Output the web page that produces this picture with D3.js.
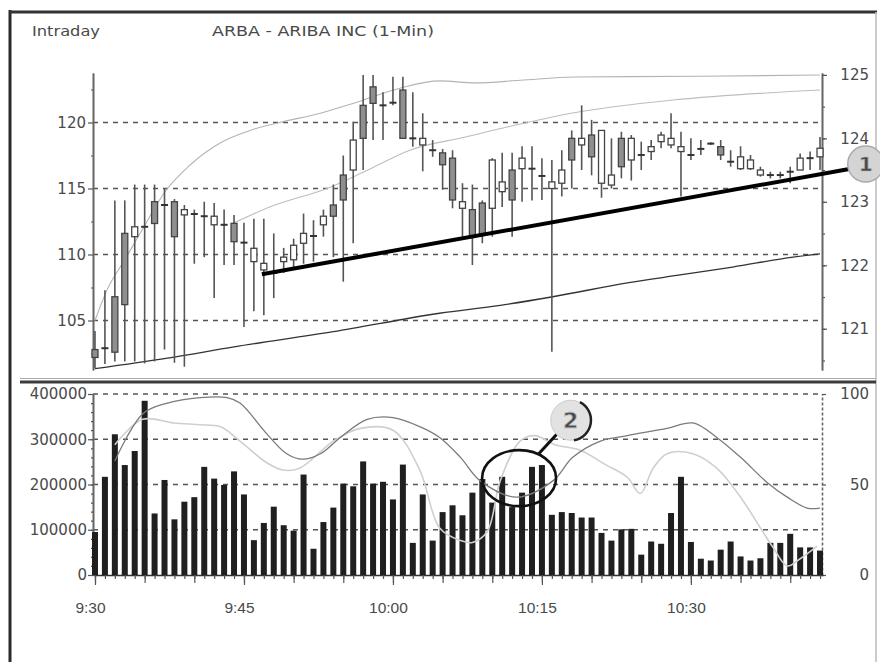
<!DOCTYPE html>
<html>
<head>
<meta charset="utf-8">
<script src="https://cdn.jsdelivr.net/npm/d3@7"></script>
<style>
  body { margin: 0; background: #fff; }
  text { font-family: "DejaVu Sans", sans-serif; fill: #4a4a4a; }
</style>
</head>
<body>
<script>
const W = 880, H = 662;

// ---- data ----
const timeLabels = ["9:30", "9:45", "10:00", "10:15", "10:30"];
const timeTickIdx = [0, 15, 30, 45, 60];

const opens = [102.8,102.9,106.8,111.6,111.35,112.1,114.0,113.75,114.0,113.0,
  113.07,112.9,112.25,112.25,112.36,110.9,109.46,108.83,108.6,109.46,
  109.6,110.85,111.4,112.25,113.75,116.02,116.4,121.3,122.7,121.3,
  121.5,122.46,118.8,118.3,117.9,117.7,117.3,113.5,113.4,113.9,
  113.5,114.76,116.4,116.5,116.5,115.95,115.0,115.4,118.8,118.3,
  119.05,115.4,115.26,118.8,117.16,117.54,117.8,118.55,118.3,117.8,
  117.54,118.0,118.4,118.17,117.03,116.5,116.5,116.02,116.02,116.02,
  116.27,116.4,117.3,117.4];
const highs = [104.2,107.3,114.1,114.1,115.3,115.3,115.3,115.0,114.2,113.75,
  113.4,114.0,113.9,113.4,113.0,112.4,112.7,112.7,111.6,110.5,
  111.2,113.1,112.6,113.4,115.3,117.5,120.06,123.6,123.6,122.3,
  123.47,123.47,122.3,120.7,118.67,118.0,117.9,115.4,115.3,114.1,
  117.3,117.7,117.7,118.2,118.2,117.3,117.16,117.9,119.4,121.3,
  120.2,119.4,118.8,119.3,119.05,118.55,118.67,119.3,120.7,119.3,
  118.8,118.67,118.5,118.67,117.9,118.2,117.54,116.65,116.27,116.27,
  116.65,117.66,117.8,118.9];
const lows = [101.4,101.7,101.9,101.9,101.9,101.75,101.9,102.8,101.8,101.5,
  109.3,109.8,106.7,109.2,109.2,104.5,105.7,105.4,106.7,108.6,
  108.95,109.3,109.46,111.35,109.8,107.94,110.85,116.4,118.67,118.67,
  121.3,118.8,118.17,116.3,117.4,114.9,113.5,111.35,109.2,110.85,
  111.35,113.6,111.35,114.0,114.1,114.13,102.64,114.4,115.0,116.4,
  116.0,114.3,115.0,115.77,115.6,116.4,117.16,118.05,118.05,114.4,
  117.16,117.54,118.3,117.16,116.65,116.4,116.4,115.9,115.77,115.77,
  115.4,116.4,116.4,116.4];
const closes = [102.2,102.9,102.6,106.2,112.1,112.1,112.35,113.75,111.35,113.4,
  113.07,112.9,112.9,112.25,110.97,110.9,110.47,109.33,108.6,109.8,
  110.7,111.6,111.4,112.9,112.9,114.13,118.67,118.8,121.45,121.3,
  121.5,118.8,118.8,118.8,117.9,116.8,114.13,114.0,111.35,111.5,
  117.16,115.5,114.13,117.3,116.5,115.95,115.5,116.4,117.16,118.8,
  117.4,119.4,116.02,116.65,118.8,117.54,118.17,119.05,118.8,118.17,
  117.54,118.0,118.4,117.54,117.03,117.4,117.16,116.4,116.02,116.02,
  116.27,117.3,117.3,118.05];

const volume = [95000,217000,311000,243000,274000,385000,136000,210000,123000,162000,
  172000,239000,213000,199000,229000,178000,77000,115000,151000,110000,
  98000,222000,58000,117000,149000,202000,196000,251000,202000,206000,
  167000,244000,71000,178000,76000,139000,154000,132000,182000,212000,
  160000,217000,150000,182000,239000,243000,133000,139000,137000,127000,
  127000,93000,76000,101000,102000,45000,74000,69000,137000,217000,
  73000,36000,32000,56000,74000,41000,32000,37000,71000,71000,
  91000,61000,61000,54000];

// bands: [bar index, price]
const upperBand = [[0,105.0],[1.2,107.3],[3,109.6],[5,112.2],[7,114.7],[9.6,116.8],[12.6,118.45],
  [15.6,119.4],[18.6,120.0],[22.7,120.7],[26.2,121.5],[30.7,122.6],[34.7,123.15],[38.3,123.0],
  [42.8,123.2],[48.3,123.45],[60.9,123.5],[73,123.6]];
const middleBand = [[14,112.4],[17.6,113.6],[23.7,115.1],[28,116.6],[31.7,117.9],[37.3,118.9],
  [41.5,119.66],[48.1,120.72],[58.2,121.7],[73,122.46]];
const lowerBand = [[0,101.35],[7.3,102.15],[14,103.0],[24,104.15],[34.7,105.55],[40.8,106.15],
  [46.1,106.8],[53.6,107.85],[58.9,108.45],[64.2,109.05],[70.3,109.8],[73,110.05]];
const trendLine = [[16.8,108.5],[76.5,116.55]];

// oscillators: [bar index, value 0-100]
const oscDark = [[2,63],[4.8,89],[7.3,95],[10.6,98],[13.3,98],[14.6,95],[17.3,78],[19.3,67],
  [20.9,64],[22.7,67],[24.7,76],[27.4,86],[30,87],[32.7,82],[34.7,76],[36.8,65],[38.8,52],
  [42.5,43],[46.1,52],[48.1,65],[50.9,74],[53.6,77],[57.6,81],[60.2,84],[62.6,76],[65,65],
  [67.7,51],[69.7,43],[71.7,37],[73,37]];
const oscLight = [[2,72],[4.8,86],[7.9,84],[10.6,83],[12.6,82],[14.6,74],[17.3,62],[18.9,58],
  [20.6,59],[24,74],[26.7,81],[30,80],[32.7,58],[34.7,26],[36.8,19],[38,18],[39.5,24],
  [40.8,52],[42.8,74],[44.3,77],[46.3,72],[48.8,69],[51.4,61],[53.6,54],[54.9,45],[56.2,59],
  [57.6,67],[60.2,67],[62.6,59],[65,43],[67,26],[68.3,15],[69.7,5],[71,9],[72.7,16]];

// ---- scales ----
const x = d3.scaleLinear().domain([-0.2, 73.3]).range([93, 823]);
const yP = d3.scaleLinear().domain([101.25, 123.75]).range([370, 73]);
const yR = d3.scaleLinear().domain([120.35, 125.03]).range([370, 73]);
const yV = d3.scaleLinear().domain([0, 400000]).range([575, 394]);
const yO = d3.scaleLinear().domain([0, 100]).range([575, 394]);

const svg = d3.select("body").append("svg").attr("width", W).attr("height", H);

// frame
svg.append("line").attr("x1", 10).attr("x2", 10).attr("y1", 10).attr("y2", 662)
  .attr("stroke", "#2a2a2a").attr("stroke-width", 3);
svg.append("line").attr("x1", 9).attr("x2", 877).attr("y1", 12).attr("y2", 12)
  .attr("stroke", "#333").attr("stroke-width", 3);
svg.append("line").attr("x1", 876).attr("x2", 876).attr("y1", 12).attr("y2", 662)
  .attr("stroke", "#bbb").attr("stroke-width", 1.5);
// panel divider
svg.append("line").attr("x1", 20).attr("x2", 876).attr("y1", 378.5).attr("y2", 378.5)
  .attr("stroke", "#aaa").attr("stroke-width", 1);
svg.append("line").attr("x1", 20).attr("x2", 876).attr("y1", 382).attr("y2", 382)
  .attr("stroke", "#3c3c3c").attr("stroke-width", 3);

// titles
svg.append("text").attr("x", 32).attr("y", 36).style("font-size", "13.5px")
  .attr("textLength", 68).attr("lengthAdjust", "spacingAndGlyphs").text("Intraday");
svg.append("text").attr("x", 212).attr("y", 36).style("font-size", "13.5px")
  .attr("textLength", 222).attr("lengthAdjust", "spacingAndGlyphs")
  .text("ARBA - ARIBA INC  (1-Min)");

// gridlines
const grid = svg.append("g").attr("stroke", "#555").attr("stroke-width", 1.4)
  .attr("stroke-dasharray", "5,5");
grid.selectAll("line.gp").data([105, 110, 115, 120]).join("line").attr("class", "gp")
  .attr("x1", x.range()[0]).attr("x2", x.range()[1])
  .attr("y1", d => yP(d)).attr("y2", d => yP(d));
grid.selectAll("line.gv").data([100000, 200000, 300000, 400000]).join("line").attr("class", "gv")
  .attr("x1", x.range()[0]).attr("x2", x.range()[1])
  .attr("y1", d => yV(d)).attr("y2", d => yV(d));

// axes helper
function styleAxis(g) {
  g.select(".domain").attr("stroke", "#666").attr("stroke-width", 1.6);
  g.selectAll(".tick line").attr("stroke", "#555").attr("stroke-width", 1.2);
  g.selectAll("text").style("font-size", "15px").attr("fill", "#4a4a4a")
    .style("font-family", "'DejaVu Sans', sans-serif");
}

// top panel axes
svg.append("g").attr("transform", `translate(${x.range()[0]},0)`)
  .call(d3.axisLeft(yP).tickValues([102.5, 107.5, 112.5, 117.5, 122.5]).tickSize(2)
    .tickSizeOuter(0).tickFormat(""))
  .call(styleAxis);
svg.append("g").attr("transform", `translate(${x.range()[0]},0)`)
  .call(d3.axisLeft(yP).tickValues([105, 110, 115, 120]).tickSize(5).tickPadding(2)
    .tickSizeOuter(0).tickFormat(d3.format("d")))
  .call(styleAxis);

svg.append("g").attr("transform", `translate(${x.range()[1] - 1},0)`)
  .call(d3.axisRight(yR).tickValues(d3.range(120.5, 125.01, 0.5)).tickSize(3)
    .tickSizeOuter(0).tickFormat(""))
  .call(styleAxis);
svg.append("g").attr("transform", `translate(${x.range()[1] - 1},0)`)
  .call(d3.axisRight(yR).tickValues([121, 122, 123, 124, 125]).tickSize(5)
    .tickSizeOuter(0).tickFormat(d3.format("d")))
  .call(styleAxis)
  .call(g => g.selectAll("text").attr("x", 47).attr("text-anchor", "end"));

// bottom panel axes
svg.append("g").attr("transform", `translate(${x.range()[0]},0)`)
  .call(d3.axisLeft(yV).tickValues(d3.range(0, 400001, 20000)).tickSize(2)
    .tickSizeOuter(0).tickFormat(""))
  .call(styleAxis);
svg.append("g").attr("transform", `translate(${x.range()[0]},0)`)
  .call(d3.axisLeft(yV).tickValues([0, 100000, 200000, 300000, 400000]).tickSize(5)
    .tickPadding(1).tickSizeOuter(0).tickFormat(d3.format("d")))
  .call(styleAxis);
svg.append("g").attr("transform", `translate(${x.range()[1] - 1},0)`)
  .call(d3.axisRight(yO).tickValues([0, 50, 100]).tickSize(4).tickSizeOuter(0)
    .tickFormat(d3.format("d")))
  .call(styleAxis)
  .call(g => g.select(".domain").attr("stroke-dasharray", "3,2"))
  .call(g => g.selectAll("text").attr("x", 47).attr("text-anchor", "end"));

// time axis
const barIdx = d3.range(volume.length);
svg.append("g").attr("transform", `translate(0,${yV(0)})`)
  .call(d3.axisBottom(x).tickValues(barIdx).tickSize(4).tickSizeOuter(0).tickFormat(""))
  .call(styleAxis)
  .call(g => g.select(".domain").attr("stroke", "#333"));
svg.append("g").attr("transform", `translate(0,${yV(0)})`)
  .call(d3.axisBottom(x).tickValues(barIdx.filter(i => i % 5 === 0)).tickSize(8)
    .tickSizeOuter(0).tickFormat(""))
  .call(styleAxis)
  .call(g => g.select(".domain").remove());
svg.append("g").attr("transform", `translate(0,${yV(0)})`)
  .call(d3.axisBottom(x).tickValues(timeTickIdx).tickSize(10).tickPadding(17)
    .tickSizeOuter(0).tickFormat((d, k) => timeLabels[k]))
  .call(styleAxis)
  .call(g => g.select(".domain").remove())
  .call(g => g.selectAll("text").attr("dx", -5)
    .style("font-family", "'Liberation Sans', Arial, sans-serif").style("font-size", "15.5px"));

// bands and trend in price panel
const lineP = d3.line().x(d => x(d[0])).y(d => yP(d[1])).curve(d3.curveMonotoneX);
svg.append("path").datum(upperBand).attr("d", lineP).attr("fill", "none")
  .attr("stroke", "#b3b3b3").attr("stroke-width", 1.1);
svg.append("path").datum(middleBand).attr("d", lineP).attr("fill", "none")
  .attr("stroke", "#bdbdbd").attr("stroke-width", 1.1);
svg.append("path").datum(lowerBand).attr("d", lineP).attr("fill", "none")
  .attr("stroke", "#333").attr("stroke-width", 1.3);

// candles
const bars = barIdx.map(i => ({ i, o: opens[i], h: highs[i], l: lows[i], c: closes[i] }));
const gC = svg.append("g");
gC.append("g").selectAll("line").data(bars).join("line")
  .attr("x1", d => x(d.i)).attr("x2", d => x(d.i))
  .attr("y1", d => yP(d.h)).attr("y2", d => yP(d.l))
  .attr("stroke", "#555").attr("stroke-width", 1.6);
const bodyW = 6;
gC.append("g").selectAll("rect").data(bars.filter(d => d.o !== d.c)).join("rect")
  .attr("x", d => x(d.i) - bodyW / 2).attr("width", bodyW)
  .attr("y", d => yP(Math.max(d.o, d.c)))
  .attr("height", d => Math.max(2, Math.abs(yP(d.o) - yP(d.c))))
  .attr("fill", d => d.c < d.o ? "#8f8f8f" : "#fff")
  .attr("stroke", "#444").attr("stroke-width", 1.3);
gC.append("g").selectAll("line").data(bars.filter(d => d.o === d.c)).join("line")
  .attr("x1", d => x(d.i) - 3.5).attr("x2", d => x(d.i) + 3.5)
  .attr("y1", d => yP(d.c)).attr("y2", d => yP(d.c))
  .attr("stroke", "#333").attr("stroke-width", 2);

// trend line
svg.append("path").datum(trendLine).attr("d", d3.line().x(d => x(d[0])).y(d => yP(d[1])))
  .attr("stroke", "#000").attr("stroke-width", 4).attr("fill", "none");

// annotation 1
const a1 = { i: 77.6, p: 116.86 };
svg.append("circle").attr("cx", x(a1.i)).attr("cy", yP(a1.p)).attr("r", 18)
  .attr("fill", "#d4d4d4").attr("stroke", "#aaa").attr("stroke-width", 1.5);
svg.append("text").attr("x", x(a1.i)).attr("y", yP(a1.p)).attr("text-anchor", "middle")
  .attr("dominant-baseline", "central").style("font-size", "20px").style("font-weight", "bold")
  .attr("fill", "#fff").attr("stroke", "#bbb").attr("stroke-width", 0.6).text("1");

// volume bars
svg.append("g").selectAll("rect").data(barIdx).join("rect")
  .attr("x", i => x(i) - 3).attr("width", 6)
  .attr("y", i => yV(volume[i])).attr("height", i => yV(0) - yV(volume[i]))
  .attr("fill", "#1f1f1f");

// oscillators
const lineO = d3.line().x(d => x(d[0])).y(d => yO(d[1])).curve(d3.curveCatmullRom);
svg.append("path").datum(oscLight).attr("d", lineO).attr("fill", "none")
  .attr("stroke", "#cfcfcf").attr("stroke-width", 1.6);
svg.append("path").datum(oscDark).attr("d", lineO).attr("fill", "none")
  .attr("stroke", "#7a7a7a").attr("stroke-width", 1.3);

// annotation 2 : ellipse round the volume spike, bubble with "2"
const ell = { i: 42.7, v: 214000, rx: 37, ry: 28 };
const b2 = { i: 47.9, v: 342000, r: 20 };
const ex = x(ell.i), ey = yV(ell.v), bx = x(b2.i), by = yV(b2.v);
svg.append("ellipse").attr("cx", ex).attr("cy", ey).attr("rx", ell.rx).attr("ry", ell.ry)
  .attr("fill", "none").attr("stroke", "#111").attr("stroke-width", 2.6);
const ang = -1.0;
svg.append("line")
  .attr("x1", ex + ell.rx * Math.cos(ang) * 0.95).attr("y1", ey + ell.ry * Math.sin(ang))
  .attr("x2", bx - b2.r * 0.7).attr("y2", by + b2.r * 0.7)
  .attr("stroke", "#111").attr("stroke-width", 3);
svg.append("circle").attr("cx", bx).attr("cy", by).attr("r", b2.r)
  .attr("fill", "#e2e2e2").attr("stroke", "#ccc").attr("stroke-width", 1);
svg.append("path")
  .attr("d", d3.arc()({ innerRadius: b2.r - 1, outerRadius: b2.r + 1.5,
    startAngle: Math.PI * 0.15, endAngle: Math.PI * 0.95 }))
  .attr("transform", `translate(${bx},${by})`).attr("fill", "#222");
svg.append("text").attr("x", bx).attr("y", by).attr("text-anchor", "middle")
  .attr("dominant-baseline", "central").style("font-size", "22px").style("font-weight", "bold")
  .attr("fill", "#fff").attr("stroke", "#c4c4c4").attr("stroke-width", 0.8).text("2");
</script>
</body>
</html>
